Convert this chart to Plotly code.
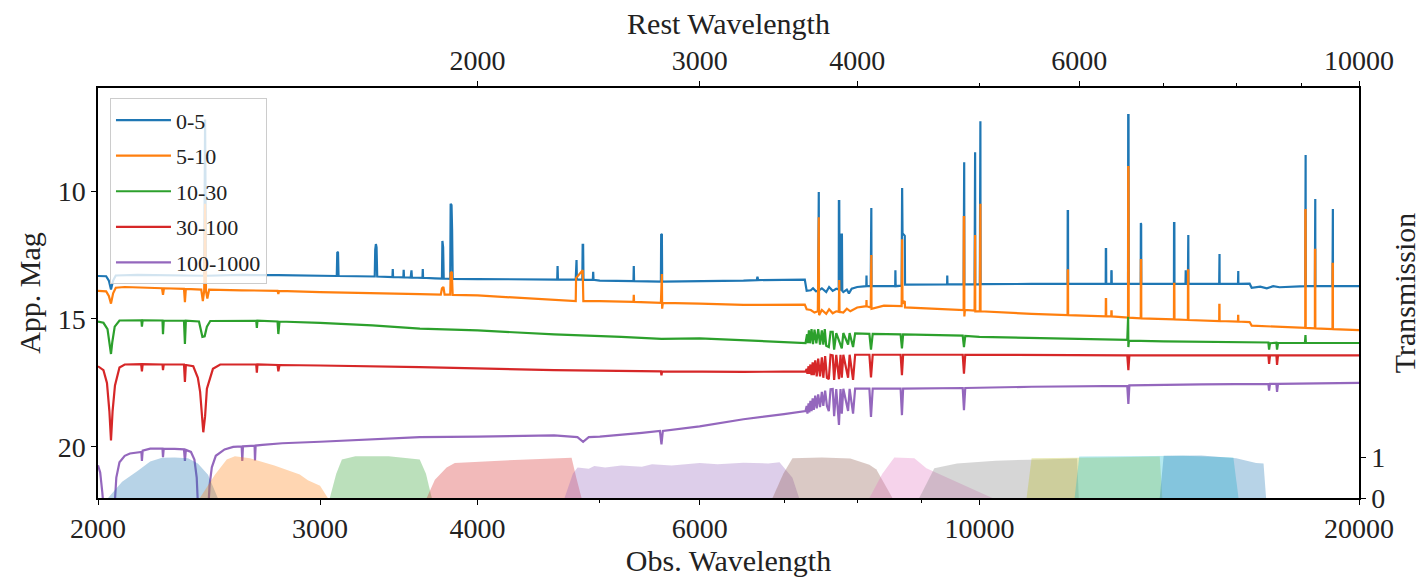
import plotly.graph_objects as go

# ---------------- spectra (observed wavelength in Angstrom, apparent magnitude) ----------------
WL_05 = [2000, 2030, 2040, 2048, 2056, 2066, 2150, 2300, 2420, 2428, 2432, 2436, 2440, 2600, 2780, 3000,
         3093, 3096, 3100, 3103, 3315, 3318, 3322, 3326, 3330, 3424, 3426, 3428, 3493, 3495, 3497,
         3540, 3545, 3548, 3617, 3619, 3621, 3700, 3748, 3751, 3756, 3760, 3805, 3808, 3814, 3818, 3822,
         4000, 4300, 4626, 4629, 4632, 4785, 4788, 4792, 4795, 4843, 4846, 4850, 4853, 4937, 4940, 4943,
         5000, 5317, 5320, 5323, 5590, 5593, 5600, 5603, 6000, 6500, 6660, 6668, 6676, 7270, 7295, 7350,
         7380, 7420, 7450, 7452, 7458, 7460, 7500, 7560, 7600, 7650, 7700, 7735, 7737, 7742, 7746, 7770,
         7775, 7780, 7785, 7800, 7850, 7880, 7920, 8000, 8134, 8137, 8140, 8200, 8203, 8209, 8212, 8400,
         8575, 8578, 8582, 8676, 8679, 8684, 8690, 8726, 8730, 9000, 9427, 9430, 9434, 9716, 9719, 9726,
         9729, 9912, 9915, 9922, 9925, 10008, 10011, 10018, 10021, 11000, 11747, 11750, 11756, 11759,
         12594, 12597, 12603, 12606, 12722, 12725, 12731, 12734, 13118, 13122, 13130, 13134, 13426, 13429,
         13436, 13440, 14265, 14268, 14276, 14279, 14570, 14575, 14580, 14633, 14636, 14644, 14648, 15494,
         15497, 15503, 15506, 16035, 16038, 16043, 16046, 16380, 16440, 16700, 16900, 17100, 17300, 18130,
         18133, 18143, 18146, 18452, 18455, 18465, 18468, 19055, 19058, 19068, 19071, 20000]
MAG_05 = [13.32, 13.33, 13.5, 13.85, 13.5, 13.3, 13.28, 13.3, 13.31, 13.31, 7.2, 13.31, 13.31, 13.28, 13.29, 13.3,
          13.32, 12.38, 12.4, 13.32, 13.34, 12.3, 12.07, 12.2, 13.34, 13.36, 13.05, 13.36, 13.37, 13.08, 13.37,
          13.38, 13.1, 13.38, 13.39, 13.05, 13.39, 13.41, 13.42, 11.95, 12.2, 13.42, 13.43, 10.5, 10.55, 11.5, 13.43,
          13.44, 13.45, 13.46, 12.93, 13.46, 13.46, 12.7, 12.7, 13.46, 13.46, 12.1, 12.1, 13.47, 13.47, 13.16, 13.47,
          13.5, 13.52, 12.93, 13.52, 13.54, 11.68, 11.7, 13.54, 13.53, 13.5, 13.48, 13.35, 13.48, 13.46, 13.9, 13.88,
          13.8, 13.92, 13.9, 10.04, 10.04, 13.88, 13.8, 13.95, 13.75, 13.9, 13.82, 13.85, 10.39, 10.39, 13.85, 13.85,
          11.7, 11.7, 13.9, 13.95, 13.85, 14.0, 13.82, 13.75, 13.72, 13.3, 13.72, 13.72, 10.66, 10.66, 13.72, 13.72,
          13.72, 13.1, 13.72, 13.7, 9.88, 9.88, 11.65, 11.75, 13.66, 13.65, 13.65, 13.3, 13.65, 13.65, 8.87, 8.87,
          13.65, 13.65, 8.48, 8.48, 13.65, 13.65, 7.27, 7.27, 13.64, 13.63, 13.63, 10.78, 10.78, 13.63,
          13.63, 12.27, 12.27, 13.63, 13.63, 13.1, 13.13, 13.63, 13.63, 7.03, 7.03, 13.63, 13.63, 11.25,
          11.3, 13.63, 13.63, 11.25, 11.25, 13.63, 13.63, 13.1, 13.63, 13.63, 11.72, 11.72, 13.63, 13.63,
          12.46, 12.46, 13.63, 13.63, 13.13, 13.13, 13.63, 13.62, 13.78, 13.74, 13.8, 13.72, 13.76, 13.72,
          8.59, 8.59, 13.72, 13.72, 10.31, 10.31, 13.72, 13.72, 10.7, 10.7, 13.72, 13.72]

WL_510 = [2000, 2030, 2040, 2048, 2056, 2066, 2100, 2200, 2248, 2252, 2256, 2340, 2344, 2348, 2415, 2422,
          2428, 2432, 2436, 2442, 2450, 2600, 2776, 2780, 2784, 3000, 3300, 3600, 3740, 3748, 3758, 3766,
          3805, 3808, 3816, 3822, 4000, 4300, 4600, 4785, 4788, 4846, 4852, 5000, 5317, 5320, 5323, 5590,
          5593, 5600, 5603, 5610, 6000, 6500, 7270, 7295, 7350, 7400, 7445, 7452, 7458, 7462, 7500, 7560,
          7600, 7650, 7700, 7735, 7737, 7742, 7746, 7800, 7850, 7900, 8000, 8134, 8137, 8140, 8200, 8203,
          8209, 8212, 8400, 8676, 8679, 8684, 8690, 8726, 8730, 9000, 9716, 9719, 9726, 9729, 9740, 9912,
          9915, 9922, 9925, 10008, 10011, 10018, 10021, 11000, 11747, 11750, 11756, 11759, 12594, 12597,
          12603, 12606, 12722, 12725, 12731, 12734, 13118, 13122, 13130, 13134, 13426, 13429, 13436, 13440,
          14265, 14268, 14276, 14279, 14633, 14636, 14644, 14648, 15494, 15497, 15503, 15506, 16035, 16038,
          16043, 16046, 16380, 16440, 17000, 18130, 18133, 18143, 18146, 18452, 18455, 18465, 18468, 19055,
          19058, 19068, 19071, 20000]
MAG_510 = [13.9, 13.92, 14.1, 14.4, 14.0, 13.78, 13.75, 13.8, 13.8, 14.06, 13.8, 13.82, 14.34, 13.82, 13.85, 14.3,
           13.9, 10.5, 13.9, 14.2, 13.85, 13.88, 13.9, 14.02, 13.9, 13.95, 13.98, 14.03, 14.05, 13.8, 13.75, 14.05,
           14.05, 13.2, 13.16, 14.06, 14.08, 14.17, 14.27, 14.3, 13.4, 13.09, 14.3, 14.3, 14.33, 14.06, 14.33, 14.37,
           13.24, 13.24, 14.6, 14.37, 14.4, 14.45, 14.44, 14.62, 14.65, 14.75, 14.7, 11.02, 11.02, 14.85, 14.65, 14.8,
           14.62, 14.78, 14.7, 14.72, 13.48, 13.48, 14.72, 14.75, 14.6, 14.7, 14.55, 14.5, 14.26, 14.5, 14.55, 12.5,
           12.5, 14.6, 14.48, 14.5, 11.88, 11.88, 14.4, 14.3, 14.55, 14.58, 14.65, 11.02, 11.02, 14.9, 14.65, 14.67,
           11.72, 11.72, 14.7, 14.7, 10.5, 10.5, 14.7, 14.8, 14.85, 13.1, 13.1, 14.85, 14.9, 14.22,
           14.22, 14.9, 14.9, 14.7, 14.7, 14.9, 14.95, 9.06, 9.06, 14.95, 14.98, 12.7, 12.7, 14.98,
           15.02, 13.63, 13.63, 15.02, 15.04, 13.1, 13.1, 15.04, 15.08, 14.45, 14.45, 15.08, 15.1, 14.88,
           14.88, 15.1, 15.12, 15.26, 15.3, 15.35, 10.74, 10.74, 15.35, 15.37, 12.3, 12.3, 15.37, 15.4,
           12.85, 12.85, 15.4, 15.44]

WL_1030 = [2000, 2020, 2035, 2043, 2048, 2053, 2062, 2080, 2120, 2165, 2167, 2170, 2250, 2252, 2255, 2340,
           2344, 2348, 2405, 2412, 2420, 2430, 2440, 2455, 2600, 2670, 2673, 2676, 2776, 2780, 2786, 3000,
           3300, 3600, 4000, 4600, 5200, 5596, 6000, 6500, 7000, 7280, 7300, 7310, 7325, 7340, 7360, 7380,
           7400, 7425, 7450, 7475, 7500, 7520, 7540, 7560, 7596, 7620, 7650, 7670, 7700, 7778, 7800, 7868,
           7890, 7940, 7970, 8180, 8204, 8230, 8660, 8681, 8700, 9000, 9700, 9722, 9745, 10000, 11000, 12000,
           13100, 13120, 13126, 13140, 14000, 16000, 16950, 16972, 17000, 17200, 17220, 17250, 18120, 18138,
           18150, 20000]
MAG_1030 = [15.1, 15.15, 15.4, 15.9, 16.37, 15.9, 15.3, 15.06, 15.05, 15.05, 15.3, 15.05, 15.06, 15.6, 15.06, 15.07,
            15.98, 15.07, 15.1, 15.45, 15.7, 15.68, 15.3, 15.08, 15.06, 15.07, 15.35, 15.07, 15.1, 15.59, 15.1, 15.15,
            15.25, 15.38, 15.45, 15.6, 15.7, 15.78, 15.76, 15.83, 15.9, 15.94, 15.6, 15.95, 15.45, 15.95, 15.4, 15.98,
            15.42, 15.95, 15.4, 16.0, 15.45, 16.0, 15.4, 16.05, 16.1, 15.5, 15.5, 16.2, 15.55, 16.15, 15.55, 16.0,
            15.55, 16.1, 15.56, 15.58, 16.2, 15.58, 15.6, 16.15, 15.6, 15.62, 15.65, 16.1, 15.66, 15.7, 15.75, 15.8,
            15.82, 14.92, 16.1, 15.85, 15.88, 15.92, 15.92, 16.2, 15.95, 15.93, 16.2, 15.94, 15.93, 15.63,
            15.93, 15.94]

WL_30100 = [2000, 2020, 2033, 2042, 2048, 2054, 2063, 2080, 2100, 2164, 2167, 2170, 2250, 2252, 2255, 2340,
            2344, 2348, 2380, 2400, 2410, 2418, 2424, 2432, 2440, 2467, 2500, 2670, 2673, 2676, 2776, 2780,
            2786, 3000, 3600, 4600, 5590, 5596, 5602, 6500, 7280, 7295, 7305, 7320, 7330, 7345, 7360, 7375,
            7390, 7410, 7430, 7450, 7475, 7500, 7520, 7545, 7570, 7596, 7620, 7650, 7670, 7700, 7738, 7760,
            7778, 7800, 7868, 7890, 7940, 7970, 8180, 8204, 8230, 8660, 8681, 8700, 9700, 9722, 9745, 13100,
            13126, 13150, 16950, 16972, 17000, 17200, 17220, 17250, 20000]
MAG_30100 = [16.85, 17.0, 17.5, 18.6, 19.75, 18.6, 17.6, 16.9, 16.78, 16.77, 17.05, 16.77, 16.78, 17.0, 16.78, 16.78,
             17.46, 16.8, 16.85, 17.3, 17.85, 18.9, 19.43, 18.8, 17.73, 16.95, 16.78, 16.78, 17.1, 16.78, 16.8, 17.05,
             16.8, 16.82, 16.88, 17.0, 17.05, 17.2, 17.05, 17.07, 17.05, 16.95, 17.15, 16.85, 17.15, 16.78, 17.2, 16.7,
             17.2, 16.62, 17.25, 16.55, 17.25, 16.5, 17.3, 16.45, 17.3, 17.35, 16.4, 16.42, 17.38, 16.4, 17.35, 16.4,
             17.3, 16.4, 17.3, 16.4, 17.38, 16.4, 16.4, 17.29, 16.4, 16.4, 17.2, 16.4, 16.4, 17.14, 16.4, 16.42,
             17.0, 16.42, 16.42, 16.76, 16.42, 16.42, 16.8, 16.42, 16.42]

WL_1001000 = [2000, 2008, 2016, 2022, 2060, 2068, 2080, 2100, 2120, 2165, 2167, 2170, 2200, 2250, 2252, 2255,
              2300, 2340, 2344, 2348, 2370, 2385, 2395, 2402, 2445, 2452, 2462, 2480, 2520, 2560, 2600, 2603,
              2606, 2662, 2664, 2667, 2700, 2800, 3000, 3300, 3600, 4000, 4600, 4800, 4850, 4900, 5000, 5400,
              5580, 5596, 5610, 6000, 6500, 7000, 7280, 7295, 7305, 7320, 7330, 7345, 7360, 7375, 7390, 7410,
              7430, 7450, 7475, 7500, 7520, 7545, 7570, 7596, 7620, 7650, 7670, 7700, 7738, 7760, 7778, 7800,
              7868, 7890, 7940, 7970, 8180, 8204, 8230, 8660, 8681, 8700, 9700, 9722, 9745, 11000, 13100, 13126,
              13150, 15000, 16950, 16972, 17000, 17200, 17220, 17250, 20000]
MAG_1001000 = [20.72, 21.0, 21.8, 22.6, 22.6, 21.2, 20.6, 20.35, 20.26, 20.2, 20.55, 20.15, 20.07, 20.07, 20.4, 20.07,
               20.08, 20.1, 20.55, 20.12, 20.2, 20.5, 21.2, 22.6, 22.6, 21.5, 20.8, 20.35, 20.1, 20.0, 19.98, 20.55,
               19.98, 19.95, 20.53, 19.95, 19.92, 19.86, 19.8, 19.72, 19.62, 19.6, 19.55, 19.62, 19.8, 19.62, 19.6, 19.45,
               19.38, 19.9, 19.38, 19.2, 18.92, 18.72, 18.6, 18.4, 18.7, 18.3, 18.65, 18.2, 18.6, 18.1, 18.55, 18.0,
               18.5, 17.95, 18.45, 17.85, 18.4, 17.8, 18.4, 18.6, 17.75, 17.74, 18.8, 17.74, 19.14, 17.74, 18.7, 17.73,
               18.6, 17.73, 18.7, 17.72, 17.72, 18.83, 17.72, 17.72, 18.76, 17.72, 17.7, 18.57, 17.7, 17.65, 17.62, 18.32,
               17.6, 17.56, 17.54, 17.8, 17.54, 17.54, 17.85, 17.54, 17.5]

SERIES_NAMES = ["0-5", "5-10", "10-30", "30-100", "100-1000"]
SERIES_COLORS = ["#1f77b4", "#ff7f0e", "#2ca02c", "#d62728", "#9467bd"]

# ---------------- filter transmission curves (observed wavelength, transmission) ----------------
F1_WL = [2037, 2090, 2151, 2200, 2248, 2300, 2357, 2400, 2445, 2475, 2489]
F1_T = [0, 0.4, 0.67, 0.9, 0.99, 1.0, 0.98, 0.85, 0.57, 0.2, 0]
F2_WL = [2409, 2476, 2530, 2568, 2639, 2760, 2891, 2934, 3000, 3043]
F2_T = [0, 0.57, 0.95, 1.03, 0.98, 0.8, 0.58, 0.44, 0.3, 0]
F3_WL = [3054, 3090, 3122, 3200, 3400, 3599, 3640, 3679]
F3_T = [0, 0.6, 0.95, 1.03, 1.03, 0.95, 0.6, 0]
F4_WL = [3645, 3700, 3780, 3837, 4163, 4500, 4749, 4790, 4836]
F4_T = [0, 0.45, 0.75, 0.86, 0.92, 0.96, 0.99, 0.5, 0]
F5_WL = [4688, 4760, 4801, 4900, 4950, 5050, 5200, 5400, 5500, 5700, 6000, 6200, 6500, 6800, 6942, 7108, 7195]
F5_T = [0, 0.6, 0.75, 0.72, 0.79, 0.75, 0.8, 0.77, 0.83, 0.8, 0.86, 0.83, 0.87, 0.85, 0.88, 0.5, 0]
F6_WL = [6854, 6990, 7108, 7500, 7900, 8180, 8286, 8532]
F6_T = [0, 0.6, 0.98, 1.0, 0.97, 0.82, 0.7, 0]
F7_WL = [8180, 8376, 8561, 8880, 9077, 9500, 10239]
F7_T = [0, 0.6, 1.0, 0.98, 0.73, 0.45, 0]
F8_WL = [8960, 9210, 9600, 10300, 11200, 11952, 11990]
F8_T = [0, 0.73, 0.85, 0.92, 0.95, 0.97, 0]
F9_WL = [10900, 11000, 12500, 13900, 13965]
F9_T = [0, 0.98, 1.0, 1.02, 0]
F10_WL = [11900, 12000, 13000, 14500, 15900, 16050]
F10_T = [0, 1.02, 1.03, 1.04, 1.0, 0]
F11_WL = [13900, 14000, 15000, 15981, 16574, 16800, 16879]
F11_T = [0, 1.04, 1.05, 0.98, 0.86, 0.85, 0]

FILTERS = [(F1_WL, F1_T), (F2_WL, F2_T), (F3_WL, F3_T), (F4_WL, F4_T), (F5_WL, F5_T), (F6_WL, F6_T),
           (F7_WL, F7_T), (F8_WL, F8_T), (F9_WL, F9_T), (F10_WL, F10_T), (F11_WL, F11_T)]
FILTER_COLORS = ["rgba(31,119,180,0.32)", "rgba(255,127,14,0.32)", "rgba(44,160,44,0.32)",
                 "rgba(214,39,40,0.32)", "rgba(148,103,189,0.32)", "rgba(140,86,75,0.32)",
                 "rgba(227,119,194,0.32)", "rgba(127,127,127,0.32)", "rgba(188,189,34,0.32)",
                 "rgba(23,190,207,0.32)", "rgba(31,119,180,0.32)"]

# ticks
OBS_TICKS = [2000, 3000, 4000, 6000, 10000, 20000]
OBS_MINOR = [5000, 7000, 8000, 9000]
REST_TICKS = [2000, 3000, 4000, 6000, 10000]
REST_MINOR = [5000, 7000, 8000, 9000]
MAG_TICKS = [10, 15, 20]
TRANS_TICKS = [0, 1]

FONT = "Liberation Serif"

fig = go.Figure()
series = [(WL_05, MAG_05), (WL_510, MAG_510), (WL_1030, MAG_1030), (WL_30100, MAG_30100), (WL_1001000, MAG_1001000)]
for (wl, mag), name, col in zip(series, SERIES_NAMES, SERIES_COLORS):
    fig.add_trace(go.Scatter(x=wl, y=mag, mode="lines", name=name, legendgroup=name,
                             line=dict(color=col, width=2.2), xaxis="x", yaxis="y"))

for (wl, tr), col in zip(FILTERS, FILTER_COLORS):
    fig.add_trace(go.Scatter(x=wl, y=tr, mode="lines", fill="tozeroy", fillcolor=col,
                             line=dict(width=0, color=col), showlegend=False, hoverinfo="skip",
                             xaxis="x", yaxis="y2"))

# empty trace so that the top (rest wavelength) axis is drawn
fig.add_trace(go.Scatter(x=[], y=[], mode="lines", showlegend=False, hoverinfo="skip", xaxis="x2", yaxis="y"))

axis_common = dict(showline=True, linecolor="black", linewidth=1.5, showgrid=False, zeroline=False,
                   ticks="outside", ticklen=5, tickwidth=1.2, tickcolor="black",
                   tickfont=dict(family=FONT, size=28, color="#222"))

fig.update_layout(
    width=1421, height=577,
    margin=dict(l=98, r=62, t=88, b=79, autoexpand=False),
    paper_bgcolor="white", plot_bgcolor="white",
    font=dict(family=FONT, color="#222"),
    xaxis=dict(type="log", range=[3.30103, 4.30103], tickmode="array", tickvals=OBS_TICKS,
               ticktext=[str(v) for v in OBS_TICKS],
               minor=dict(tickmode="array", tickvals=OBS_MINOR, ticks="outside", ticklen=3.5, tickcolor="black"),
               title=dict(text="Obs. Wavelength", font=dict(family=FONT, size=30, color="#222"), standoff=0),
               **axis_common),
    xaxis2=dict(type="log", range=[3.0, 4.0], overlaying="x", side="top", anchor="y", tickmode="array",
                tickvals=REST_TICKS, ticktext=[str(v) for v in REST_TICKS],
                minor=dict(tickmode="array", tickvals=REST_MINOR, ticks="outside", ticklen=3.5, tickcolor="black"),
                title=dict(text="Rest Wavelength", font=dict(family=FONT, size=30, color="#222"), standoff=2),
                **axis_common),
    yaxis=dict(range=[22.0, 5.97], tickmode="array", tickvals=MAG_TICKS, ticktext=[str(v) for v in MAG_TICKS],
               title=dict(text="App. Mag", font=dict(family=FONT, size=30, color="#222"), standoff=8),
               **axis_common),
    yaxis2=dict(range=[0, 10.1], overlaying="y", side="right", anchor="x", tickmode="array",
                tickvals=TRANS_TICKS, ticktext=[str(v) for v in TRANS_TICKS],
                title=dict(text="Transmission", font=dict(family=FONT, size=30, color="#222"), standoff=12),
                **axis_common),
    legend=dict(x=0.0095, y=0.975, xanchor="left", yanchor="top", bgcolor="rgba(255,255,255,0.8)",
                bordercolor="#cccccc", borderwidth=1, font=dict(family=FONT, size=22, color="#222"),
                tracegroupgap=4, itemwidth=55, traceorder="grouped"),
    showlegend=True,
)

fig.write_html("out.html")
